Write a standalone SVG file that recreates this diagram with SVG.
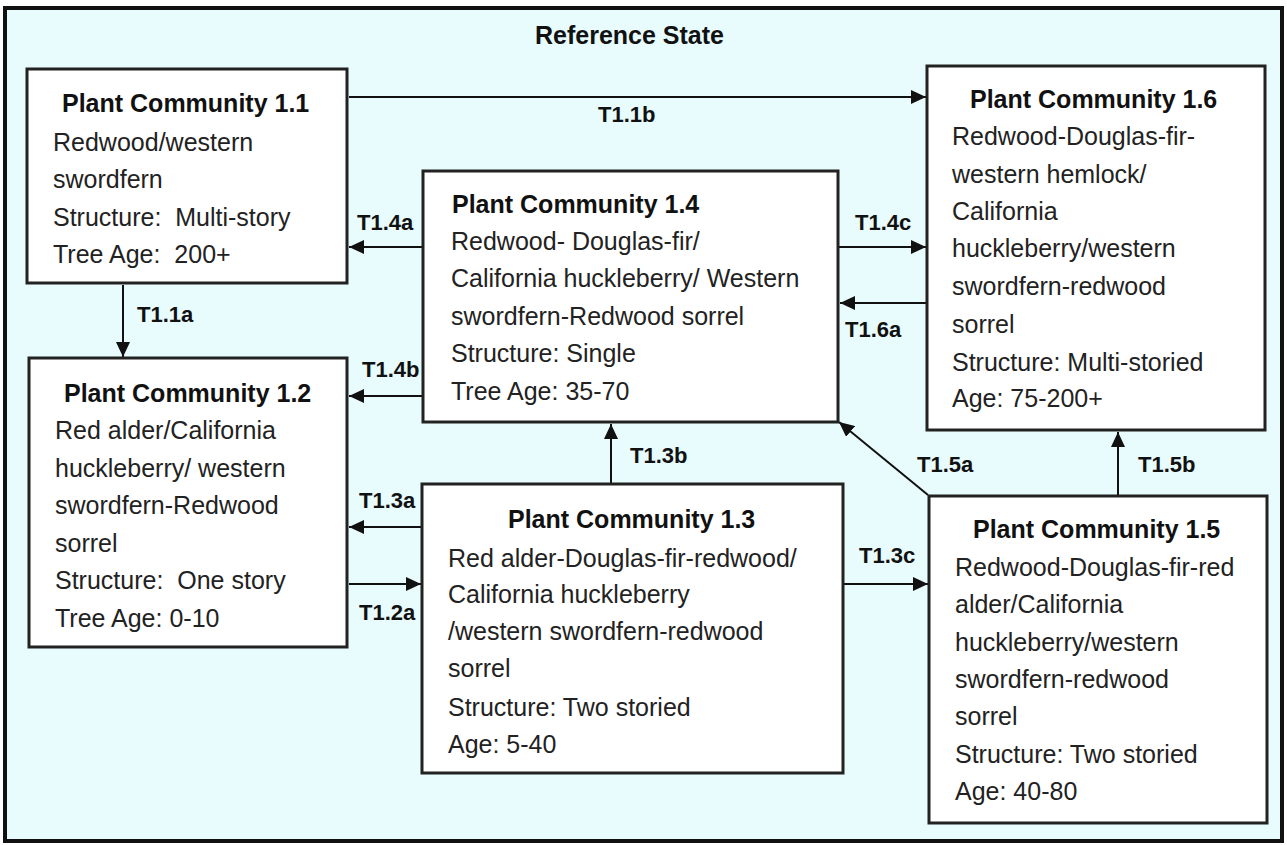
<svg xmlns="http://www.w3.org/2000/svg" width="1287" height="845" viewBox="0 0 1287 845">
<style>
.frame{fill:#e8fbfd;stroke:#111;stroke-width:4}
.box{fill:#fff;stroke:#222;stroke-width:3}
.t{font-family:"Liberation Sans",Arial,sans-serif;font-size:25px;fill:#222}
.h{font-family:"Liberation Sans",Arial,sans-serif;font-size:25px;font-weight:bold;fill:#111}
.lbl{font-family:"Liberation Sans",Arial,sans-serif;font-size:22px;font-weight:bold;fill:#111}
.c{stroke:#111;stroke-width:2;fill:none;marker-end:url(#ah)}
</style>
<defs>
<marker id="ah" markerUnits="userSpaceOnUse" markerWidth="16" markerHeight="14" refX="15" refY="7" orient="auto">
<path d="M0,0 L15,7 L0,14 z" fill="#111"/>
</marker>
</defs>
<rect class="frame" x="5" y="8" width="1277" height="833"/>
<text class="h" x="535" y="44">Reference State</text>

<g id="connectors">
<line class="c" x1="349" y1="97" x2="926" y2="97"/>
<line class="c" x1="422" y1="247" x2="349" y2="247"/>
<line class="c" x1="123" y1="285" x2="123" y2="357"/>
<line class="c" x1="422" y1="396" x2="349" y2="396"/>
<line class="c" x1="421" y1="527" x2="349" y2="527"/>
<line class="c" x1="349" y1="584" x2="421" y2="584"/>
<line class="c" x1="611" y1="483" x2="611" y2="424"/>
<line class="c" x1="844" y1="584" x2="928" y2="584"/>
<line class="c" x1="839" y1="247" x2="926" y2="247"/>
<line class="c" x1="926" y1="303" x2="840" y2="303"/>
<line class="c" x1="928" y1="495" x2="839" y2="422"/>
<line class="c" x1="1118" y1="495" x2="1118" y2="432"/>
<text class="lbl" x="598" y="122">T1.1b</text>
<text class="lbl" x="357" y="230">T1.4a</text>
<text class="lbl" x="137" y="322">T1.1a</text>
<text class="lbl" x="362" y="377">T1.4b</text>
<text class="lbl" x="359" y="508">T1.3a</text>
<text class="lbl" x="359" y="620">T1.2a</text>
<text class="lbl" x="630" y="463">T1.3b</text>
<text class="lbl" x="859" y="563">T1.3c</text>
<text class="lbl" x="855" y="230">T1.4c</text>
<text class="lbl" x="845" y="337">T1.6a</text>
<text class="lbl" x="917" y="472">T1.5a</text>
<text class="lbl" x="1138" y="472">T1.5b</text>
</g>

<g id="pc11">
<rect class="box" x="27" y="69" width="320" height="214"/>
<text class="h" x="62" y="112">Plant Community 1.1</text>
<text class="t" x="53" y="151">Redwood/western</text>
<text class="t" x="53" y="188">swordfern</text>
<text class="t" x="53" y="226" xml:space="preserve">Structure:  Multi-story</text>
<text class="t" x="53" y="263" xml:space="preserve">Tree Age:  200+</text>
</g>

<g id="pc12">
<rect class="box" x="29" y="358" width="318" height="289"/>
<text class="h" x="64" y="402">Plant Community 1.2</text>
<text class="t" x="55" y="439">Red alder/California</text>
<text class="t" x="55" y="477">huckleberry/ western</text>
<text class="t" x="55" y="514">swordfern-Redwood</text>
<text class="t" x="55" y="552">sorrel</text>
<text class="t" x="55" y="589" xml:space="preserve">Structure:  One story</text>
<text class="t" x="55" y="627">Tree Age: 0-10</text>
</g>

<g id="pc14">
<rect class="box" x="423" y="171" width="415" height="251"/>
<text class="h" x="452" y="213">Plant Community 1.4</text>
<text class="t" x="451" y="250">Redwood- Douglas-fir/</text>
<text class="t" x="451" y="287">California huckleberry/ Western</text>
<text class="t" x="451" y="325">swordfern-Redwood sorrel</text>
<text class="t" x="451" y="362">Structure: Single</text>
<text class="t" x="451" y="400">Tree Age: 35-70</text>
</g>

<g id="pc16">
<rect class="box" x="927" y="66" width="338" height="364"/>
<text class="h" x="970" y="108">Plant Community 1.6</text>
<text class="t" x="952" y="145">Redwood-Douglas-fir-</text>
<text class="t" x="952" y="183">western hemlock/</text>
<text class="t" x="952" y="220">California</text>
<text class="t" x="952" y="257">huckleberry/western</text>
<text class="t" x="952" y="295">swordfern-redwood</text>
<text class="t" x="952" y="333">sorrel</text>
<text class="t" x="952" y="371">Structure: Multi-storied</text>
<text class="t" x="952" y="407">Age: 75-200+</text>
</g>

<g id="pc13">
<rect class="box" x="422" y="484" width="421" height="289"/>
<text class="h" x="508" y="528">Plant Community 1.3</text>
<text class="t" x="448" y="567">Red alder-Douglas-fir-redwood/</text>
<text class="t" x="448" y="603">California huckleberry</text>
<text class="t" x="448" y="640">/western swordfern-redwood</text>
<text class="t" x="448" y="677">sorrel</text>
<text class="t" x="448" y="716">Structure: Two storied</text>
<text class="t" x="448" y="753">Age: 5-40</text>
</g>

<g id="pc15">
<rect class="box" x="929" y="496" width="338" height="327"/>
<text class="h" x="973" y="538">Plant Community 1.5</text>
<text class="t" x="955" y="576">Redwood-Douglas-fir-red</text>
<text class="t" x="955" y="613">alder/California</text>
<text class="t" x="955" y="651">huckleberry/western</text>
<text class="t" x="955" y="688">swordfern-redwood</text>
<text class="t" x="955" y="725">sorrel</text>
<text class="t" x="955" y="763">Structure: Two storied</text>
<text class="t" x="955" y="800">Age: 40-80</text>
</g>
</svg>
